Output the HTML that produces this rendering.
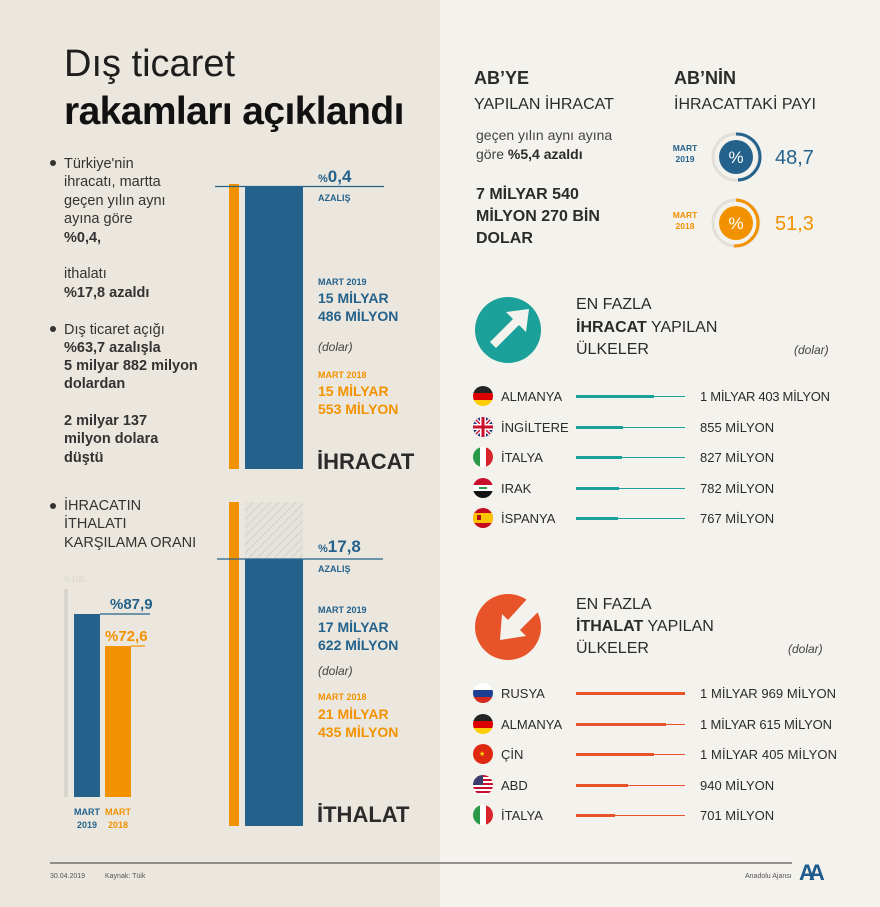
<!DOCTYPE html>
<html><head><meta charset="utf-8"><style>
html,body{margin:0;padding:0;background:#ebe7de}
svg{display:block}
text{font-family:"Liberation Sans",sans-serif}
</style></head><body>
<svg width="880" height="907" viewBox="0 0 880 907" xmlns="http://www.w3.org/2000/svg">
<defs>
<pattern id="h" width="6" height="6" patternUnits="userSpaceOnUse" patternTransform="rotate(45)">
<rect width="6" height="6" fill="#e6e3dc"/><line x1="0" y1="0" x2="0" y2="6" stroke="#d3d0c9" stroke-width="2"/></pattern>
</defs>
<rect x="0" y="0" width="440" height="907" fill="#ebe7de"/>
<rect x="440" y="0" width="440" height="907" fill="#f4f2ed"/>

<text x="64" y="76" font-size="38" fill="#1e1e1e" font-weight="300">Dış ticaret</text>
<text x="64" y="124" font-size="39" fill="#111" font-weight="bold" letter-spacing="-0.6">rakamları açıklandı</text>

<g font-size="14.5" fill="#333">
<circle cx="53" cy="163" r="3" fill="#333"/>
<text x="64" y="168">Türkiye'nin</text>
<text x="64" y="186">ihracatı, martta</text>
<text x="64" y="205">geçen yılın aynı</text>
<text x="64" y="223">ayına göre</text>
<text x="64" y="242" font-weight="bold">%0,4,</text>
<text x="64" y="278">ithalatı</text>
<text x="64" y="297" font-weight="bold">%17,8 azaldı</text>
<circle cx="53" cy="329" r="3" fill="#333"/>
<text x="64" y="334">Dış ticaret açığı</text>
<text x="64" y="352" font-weight="bold">%63,7 azalışla</text>
<text x="64" y="370" font-weight="bold">5 milyar 882 milyon</text>
<text x="64" y="388" font-weight="bold">dolardan</text>
<text x="64" y="425" font-weight="bold">2 milyar 137</text>
<text x="64" y="443" font-weight="bold">milyon dolara</text>
<text x="64" y="462" font-weight="bold">düştü</text>
<circle cx="53" cy="506" r="3" fill="#333"/>
<text x="64" y="510">İHRACATIN</text>
<text x="64" y="528">İTHALATI</text>
<text x="64" y="547">KARŞILAMA ORANI</text>
</g>

<rect x="229" y="184" width="10" height="285" fill="#f39200"/>
<rect x="245" y="187" width="58" height="282" fill="#24628c"/>
<line x1="215" y1="186.5" x2="384" y2="186.5" stroke="#24628c" stroke-width="1.2"/>
<text x="318" y="182" font-size="17" font-weight="bold" fill="#24628c"><tspan font-size="11">%</tspan>0,4</text>
<text x="318" y="201" font-size="9" font-weight="bold" fill="#24628c">AZALIŞ</text>
<text x="318" y="285" font-size="9" font-weight="bold" fill="#24628c">MART 2019</text>
<text x="318" y="303" font-size="14" font-weight="bold" fill="#24628c">15 MİLYAR</text>
<text x="318" y="321" font-size="14" font-weight="bold" fill="#24628c">486 MİLYON</text>
<text x="318" y="351" font-size="12" font-style="italic" fill="#444">(dolar)</text>
<text x="318" y="378" font-size="9" font-weight="bold" fill="#f39200">MART 2018</text>
<text x="318" y="396" font-size="14" font-weight="bold" fill="#f39200">15 MİLYAR</text>
<text x="318" y="414" font-size="14" font-weight="bold" fill="#f39200">553 MİLYON</text>
<text x="317" y="469" font-size="22" font-weight="bold" fill="#2b2b2b">İHRACAT</text>

<rect x="229" y="502" width="10" height="324" fill="#f39200"/>
<rect x="245" y="502" width="58" height="57" fill="url(#h)"/>
<rect x="245" y="559" width="58" height="267" fill="#24628c"/>
<line x1="217" y1="559" x2="383" y2="559" stroke="#24628c" stroke-width="1.2"/>
<text x="318" y="552" font-size="17" font-weight="bold" fill="#24628c"><tspan font-size="11">%</tspan>17,8</text>
<text x="318" y="572" font-size="9" font-weight="bold" fill="#24628c">AZALIŞ</text>
<text x="318" y="613" font-size="9" font-weight="bold" fill="#24628c">MART 2019</text>
<text x="318" y="632" font-size="14" font-weight="bold" fill="#24628c">17 MİLYAR</text>
<text x="318" y="650" font-size="14" font-weight="bold" fill="#24628c">622 MİLYON</text>
<text x="318" y="675" font-size="12" font-style="italic" fill="#444">(dolar)</text>
<text x="318" y="700" font-size="9" font-weight="bold" fill="#f39200">MART 2018</text>
<text x="318" y="719" font-size="14" font-weight="bold" fill="#f39200">21 MİLYAR</text>
<text x="318" y="737" font-size="14" font-weight="bold" fill="#f39200">435 MİLYON</text>
<text x="317" y="822" font-size="22" font-weight="bold" fill="#2b2b2b">İTHALAT</text>

<text x="64" y="582" font-size="8" fill="#d6d3cc">%100</text>
<rect x="64" y="589" width="4" height="208" fill="#d8d5ce"/>
<rect x="74" y="614" width="26" height="183" fill="#24628c"/>
<rect x="105" y="646" width="26" height="151" fill="#f39200"/>
<line x1="100" y1="614" x2="150" y2="614" stroke="#24628c" stroke-width="1.2"/>
<line x1="131" y1="646" x2="145" y2="646" stroke="#f39200" stroke-width="1.2"/>
<text x="110" y="609" font-size="15" font-weight="bold" fill="#24628c">%87,9</text>
<text x="105" y="641" font-size="15" font-weight="bold" fill="#f39200">%72,6</text>
<g font-size="9" font-weight="bold" text-anchor="middle">
<text x="87" y="815" fill="#24628c">MART</text><text x="87" y="828" fill="#24628c">2019</text>
<text x="118" y="815" fill="#f39200">MART</text><text x="118" y="828" fill="#f39200">2018</text>
</g>

<text x="474" y="84" font-size="18" font-weight="bold" fill="#2b2b2b">AB’YE</text>
<text x="474" y="109" font-size="16" fill="#2b2b2b">YAPILAN İHRACAT</text>
<text x="476" y="140" font-size="14" fill="#444">geçen yılın aynı ayına</text>
<text x="476" y="159" font-size="14" fill="#444">göre <tspan font-weight="bold" fill="#2b2b2b">%5,4 azaldı</tspan></text>
<g font-size="16" font-weight="bold" fill="#2b2b2b">
<text x="476" y="199">7 MİLYAR 540</text>
<text x="476" y="221">MİLYON 270 BİN</text>
<text x="476" y="243">DOLAR</text>
</g>
<text x="674" y="84" font-size="18" font-weight="bold" fill="#2b2b2b">AB’NİN</text>
<text x="674" y="109" font-size="16" fill="#2b2b2b">İHRACATTAKİ PAYI</text>

<g font-size="8.5" font-weight="bold" text-anchor="middle">
<text x="685" y="151" fill="#24628c">MART</text><text x="685" y="162" fill="#24628c">2019</text>
<text x="685" y="218" fill="#f39200">MART</text><text x="685" y="229" fill="#f39200">2018</text>
</g>
<circle cx="736" cy="157" r="23" fill="none" stroke="#e2dfd9" stroke-width="3"/>
<path d="M736 134 A23 23 0 0 1 738 180" fill="none" stroke="#24628c" stroke-width="3"/>
<circle cx="736" cy="157" r="17" fill="#24628c"/>
<text x="736" y="163" font-size="17" fill="#fff" text-anchor="middle">%</text>
<text x="775" y="164" font-size="20" fill="#24628c">48,7</text>
<circle cx="736" cy="223" r="23" fill="none" stroke="#e2dfd9" stroke-width="3"/>
<path d="M736 200 A23 23 0 0 1 734 246" fill="none" stroke="#f39200" stroke-width="3"/>
<circle cx="736" cy="223" r="17" fill="#f39200"/>
<text x="736" y="229" font-size="17" fill="#fff" text-anchor="middle">%</text>
<text x="775" y="230" font-size="20" fill="#f39200">51,3</text>

<circle cx="508" cy="330" r="33" fill="#1ba199"/>
<path d="M490 342 L513 319 L506 312 L529 309 L526 332 L519 325 L496 348 Z" fill="#f4f2ed"/>
<g font-size="16" fill="#2b2b2b">
<text x="576" y="309">EN FAZLA</text>
<text x="576" y="332"><tspan font-weight="bold">İHRACAT</tspan> YAPILAN</text>
<text x="576" y="354">ÜLKELER</text>
</g>
<text x="794" y="354" font-size="12" font-style="italic" fill="#444">(dolar)</text>

<g font-size="13" fill="#2b2b2b">
<text x="501" y="401">ALMANYA</text><text x="700" y="401" textLength="130">1 MİLYAR 403 MİLYON</text>
<text x="501" y="432">İNGİLTERE</text><text x="700" y="432">855 MİLYON</text>
<text x="501" y="462">İTALYA</text><text x="700" y="462">827 MİLYON</text>
<text x="501" y="493">IRAK</text><text x="700" y="493">782 MİLYON</text>
<text x="501" y="523">İSPANYA</text><text x="700" y="523">767 MİLYON</text>
</g>
<g stroke="#1ba199">
<line x1="576" y1="396.5" x2="685" y2="396.5" stroke-width="1"/><line x1="576" y1="396.5" x2="654" y2="396.5" stroke-width="3"/>
<line x1="576" y1="427.5" x2="685" y2="427.5" stroke-width="1"/><line x1="576" y1="427.5" x2="623" y2="427.5" stroke-width="3"/>
<line x1="576" y1="457.5" x2="685" y2="457.5" stroke-width="1"/><line x1="576" y1="457.5" x2="622" y2="457.5" stroke-width="3"/>
<line x1="576" y1="488.5" x2="685" y2="488.5" stroke-width="1"/><line x1="576" y1="488.5" x2="619" y2="488.5" stroke-width="3"/>
<line x1="576" y1="518.5" x2="685" y2="518.5" stroke-width="1"/><line x1="576" y1="518.5" x2="618" y2="518.5" stroke-width="3"/>
</g>
<g>
<clipPath id="c1"><circle cx="483" cy="396" r="10"/></clipPath>
<g clip-path="url(#c1)"><rect x="473" y="386" width="20" height="7" fill="#222"/><rect x="473" y="393" width="20" height="7" fill="#d00"/><rect x="473" y="400" width="20" height="7" fill="#fc0"/></g>
<clipPath id="c2"><circle cx="483" cy="427" r="10"/></clipPath>
<g clip-path="url(#c2)"><rect x="473" y="417" width="20" height="20" fill="#1f3b7a"/><path d="M473 417 L493 437 M493 417 L473 437" stroke="#fff" stroke-width="4"/><path d="M473 417 L493 437 M493 417 L473 437" stroke="#c8102e" stroke-width="1.5"/><rect x="473" y="424" width="20" height="6" fill="#fff"/><rect x="480" y="417" width="6" height="20" fill="#fff"/><rect x="473" y="425.5" width="20" height="3" fill="#c8102e"/><rect x="481.5" y="417" width="3" height="20" fill="#c8102e"/></g>
<clipPath id="c3"><circle cx="483" cy="457" r="10"/></clipPath>
<g clip-path="url(#c3)"><rect x="473" y="447" width="7" height="20" fill="#2a9a48"/><rect x="480" y="447" width="6" height="20" fill="#fff"/><rect x="486" y="447" width="7" height="20" fill="#d8232a"/></g>
<clipPath id="c4"><circle cx="483" cy="488" r="10"/></clipPath>
<g clip-path="url(#c4)"><rect x="473" y="478" width="20" height="7" fill="#c8102e"/><rect x="473" y="485" width="20" height="6" fill="#fff"/><rect x="473" y="491" width="20" height="7" fill="#111"/><rect x="479" y="487" width="8" height="2" fill="#2a9a48"/></g>
<clipPath id="c5"><circle cx="483" cy="518" r="10"/></clipPath>
<g clip-path="url(#c5)"><rect x="473" y="508" width="20" height="20" fill="#c60b1e"/><rect x="473" y="513" width="20" height="10" fill="#ffc400"/><rect x="477" y="515" width="4" height="5" fill="#ad1519"/></g>
</g>

<circle cx="508" cy="627" r="33" fill="#e8542a"/>
<path d="M528 598 L540 610 L520 630 L526 636 L500 640 L502 614 L508 620 Z" fill="#f4f2ed"/>
<g font-size="16" fill="#2b2b2b">
<text x="576" y="609">EN FAZLA</text>
<text x="576" y="631"><tspan font-weight="bold">İTHALAT</tspan> YAPILAN</text>
<text x="576" y="653">ÜLKELER</text>
</g>
<text x="788" y="653" font-size="12" font-style="italic" fill="#444">(dolar)</text>
<g font-size="13" fill="#2b2b2b">
<text x="501" y="698">RUSYA</text><text x="700" y="698" textLength="136">1 MİLYAR 969 MİLYON</text>
<text x="501" y="729">ALMANYA</text><text x="700" y="729" textLength="132">1 MİLYAR 615 MİLYON</text>
<text x="501" y="759">ÇİN</text><text x="700" y="759" textLength="137">1 MİLYAR 405 MİLYON</text>
<text x="501" y="790">ABD</text><text x="700" y="790">940 MİLYON</text>
<text x="501" y="820">İTALYA</text><text x="700" y="820">701 MİLYON</text>
</g>
<g stroke="#e8542a">
<line x1="576" y1="693.5" x2="685" y2="693.5" stroke-width="3"/>
<line x1="576" y1="724.5" x2="685" y2="724.5" stroke-width="1"/><line x1="576" y1="724.5" x2="666" y2="724.5" stroke-width="3"/>
<line x1="576" y1="754.5" x2="685" y2="754.5" stroke-width="1"/><line x1="576" y1="754.5" x2="654" y2="754.5" stroke-width="3"/>
<line x1="576" y1="785.5" x2="685" y2="785.5" stroke-width="1"/><line x1="576" y1="785.5" x2="628" y2="785.5" stroke-width="3"/>
<line x1="576" y1="815.5" x2="685" y2="815.5" stroke-width="1"/><line x1="576" y1="815.5" x2="615" y2="815.5" stroke-width="3"/>
</g>
<clipPath id="d1"><circle cx="483" cy="693" r="10"/></clipPath>
<g clip-path="url(#d1)"><rect x="473" y="683" width="20" height="7" fill="#fff"/><rect x="473" y="690" width="20" height="7" fill="#1c3f94"/><rect x="473" y="697" width="20" height="7" fill="#d52b1e"/></g>
<clipPath id="d2"><circle cx="483" cy="724" r="10"/></clipPath>
<g clip-path="url(#d2)"><rect x="473" y="714" width="20" height="7" fill="#222"/><rect x="473" y="721" width="20" height="7" fill="#d00"/><rect x="473" y="728" width="20" height="7" fill="#fc0"/></g>
<circle cx="483" cy="754" r="10" fill="#de2910"/><text x="479" y="756" font-size="7" fill="#ffde00">★</text>
<clipPath id="d4"><circle cx="483" cy="785" r="10"/></clipPath>
<g clip-path="url(#d4)"><rect x="473" y="775" width="20" height="20" fill="#fff"/>
<g fill="#c8102e"><rect x="473" y="775" width="20" height="2"/><rect x="473" y="779" width="20" height="2"/><rect x="473" y="783" width="20" height="2"/><rect x="473" y="787" width="20" height="2"/><rect x="473" y="791" width="20" height="2"/></g>
<rect x="473" y="775" width="10" height="10" fill="#3c3b6e"/></g>
<clipPath id="d5"><circle cx="483" cy="815" r="10"/></clipPath>
<g clip-path="url(#d5)"><rect x="473" y="805" width="7" height="20" fill="#2a9a48"/><rect x="480" y="805" width="6" height="20" fill="#fff"/><rect x="486" y="805" width="7" height="20" fill="#d8232a"/></g>

<line x1="50" y1="863" x2="792" y2="863" stroke="#333" stroke-width="1"/>
<text x="50" y="878" font-size="7" fill="#555">30.04.2019</text>
<text x="105" y="878" font-size="7" fill="#555">Kaynak: Tüik</text>
<text x="745" y="878" font-size="7" fill="#555">Anadolu Ajansı</text>
<text x="799" y="880" font-size="22" font-weight="bold" fill="#1e5a8c" letter-spacing="-6">AA</text>
</svg>
</body></html>
